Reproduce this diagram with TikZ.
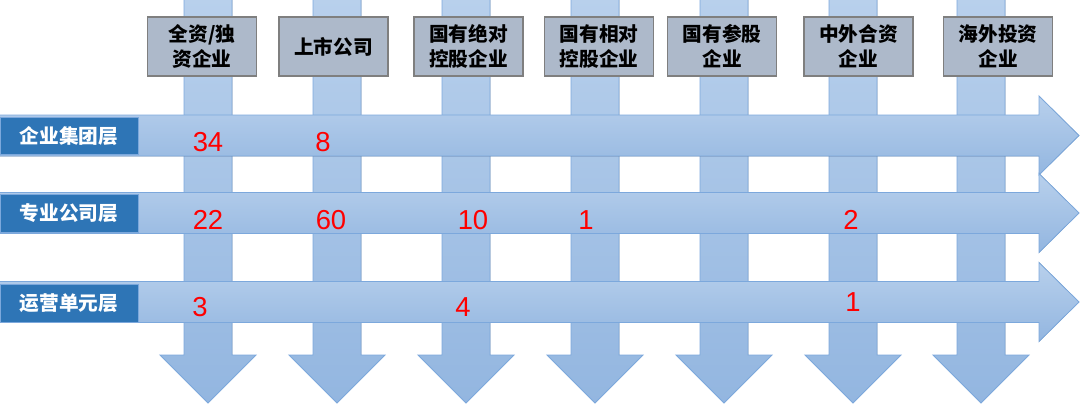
\documentclass[tikz,border=0pt]{standalone}
\usepackage{fontspec}
\setmainfont{Liberation Sans}
\newfontfamily\cjk{Noto Sans CJK SC}
\definecolor{bandtop}{HTML}{B8D0EC}
\definecolor{bandbot}{HTML}{93B6E0}
\definecolor{bandline}{HTML}{7CA8DC}
\definecolor{head}{HTML}{ADB9CA}
\definecolor{headline}{HTML}{7F7F7F}
\definecolor{level}{HTML}{2E75B6}
\definecolor{count}{HTML}{FF0000}

\begin{document}
\begin{tikzpicture}[x=0.025cm,y=-0.025cm,
band/.style={draw=bandline,line width=0.6pt,top color=bandtop,bottom color=bandbot},
colhead/.style={draw=headline,line width=1.2pt,fill=head,minimum width=2.72cm,minimum height=1.47cm,align=center,inner sep=1pt,font=\cjk\bfseries\fontsize{14}{17.7}\selectfont},
levelbox/.style={fill=level,draw=bandline,line width=0.6pt,minimum width=3.45cm,minimum height=0.93cm,text=white,font=\cjk\bfseries\fontsize{14}{15}\selectfont},
num/.style={text=count,inner sep=0pt,font=\fontsize{19.5}{20}\selectfont}]
  \useasboundingbox (0,0) rectangle (1080,404);
  % columns (downward arrows)
  \foreach \c in {208,337,466,595,724,853,981}
    \filldraw[band] (\c-24,-2) -- (\c+24,-2) -- (\c+24,355) -- (\c+48,355) -- (\c,403) -- (\c-48,355) -- (\c-24,355) -- cycle;
  % levels (rightward arrows)
  \foreach \r in {135.5,213,302}
    \filldraw[band] (-2,\r-20.5) -- (1039,\r-20.5) -- (1039,\r-39.5) -- (1079,\r) -- (1039,\r+39.5) -- (1039,\r+20.5) -- (-2,\r+20.5) -- cycle;
  \node[colhead] (wholly) at (202,46.5) {全资/独\\资企业};
  \node[colhead] (listed) at (333.5,46.5) {上市公司};
  \node[colhead] (absctl) at (468.5,46.5) {国有绝对\\控股企业};
  \node[colhead] (relctl) at (599,46.5) {国有相对\\控股企业};
  \node[colhead] (minor) at (722,46.5) {国有参股\\企业};
  \node[colhead] (joint) at (858.5,46.5) {中外合资\\企业};
  \node[colhead] (abroad) at (998,46.5) {海外投资\\企业};
  \node[levelbox] (group) at (69,136) {企业集团层};
  \node[levelbox] (company) at (69,213.5) {专业公司层};
  \node[levelbox] (unit) at (69,303.5) {运营单元层};
  \node[num] (g1) at (208,142) {34};
  \node[num] (g2) at (323,142) {8};
  \node[num] (c1) at (208,220) {22};
  \node[num] (c2) at (331,220) {60};
  \node[num] (c3) at (473,220) {10};
  \node[num] (c4) at (586,220) {1};
  \node[num] (c6) at (851,220) {2};
  \node[num] (u1) at (200,307) {3};
  \node[num] (u3) at (463,307) {4};
  \node[num] (u6) at (853,302) {1};
\end{tikzpicture}
\end{document}
